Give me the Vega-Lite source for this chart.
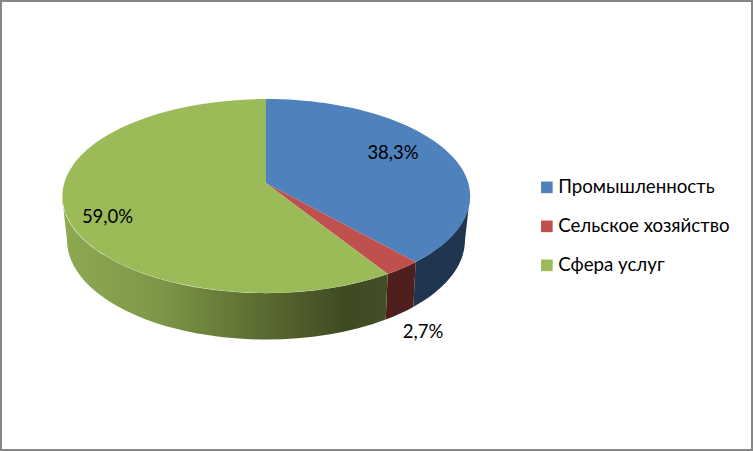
{
"$schema":"https://vega.github.io/schema/vega-lite/v6.json",
"width":751,"height":449,
"autosize":{"type":"none"},
"padding":1,
"background":"#ffffff",
"view":{"stroke":"#868686","strokeWidth":2,"fill":"#ffffff"},
"config":{"font":"Lato"},
"data":{"values":[
{"sector":"Промышленность","share":38.3,"label":"38,3%"},
{"sector":"Сельское хозяйство","share":2.7,"label":"2,7%"},
{"sector":"Сфера услуг","share":59.0,"label":"59,0%"}
]},
"layer":[
{"transform":[{"filter":"datum.sector==='Промышленность'"}],
 "mark":{"type":"point","filled":true,"size":4,"opacity":1,"fill":"#20354F","shape":"M93.5 -29.5 A204 97 0 0 1 39.2 36.5 L36.8 81.4 A199 99.5 0 0 0 88.5 14.5 Z"},"encoding":{}},
{"transform":[{"filter":"datum.sector==='Сельское хозяйство'"}],
 "mark":{"type":"point","filled":true,"size":4,"opacity":1,"fill":"#4F1F1E","shape":"M39.2 36.5 A204 97 0 0 1 11.2 48.5 L9.2 94 A199 99.5 0 0 0 36.8 81.4 Z"},"encoding":{}},
{"transform":[{"filter":"datum.sector==='Сфера услуг'"}],
 "mark":{"type":"point","filled":true,"size":4,"opacity":1,
  "fill":{"gradient":"linear","x1":0,"y1":0,"x2":1,"y2":0,"stops":[{"offset":0,"color":"#8DAA52"},{"offset":0.3,"color":"#7D9748"},{"offset":0.62,"color":"#5A6A30"},{"offset":0.88,"color":"#3E4A22"},{"offset":1,"color":"#434F26"}]},
  "shape":"M11.2 48.5 A204 97 0 0 1 -314.5 -29.5 L-309.5 14.5 A199 99.5 0 0 0 9.2 94 Z"},"encoding":{}},
{"transform":[{"filter":"datum.sector==='Промышленность'"}],
 "mark":{"type":"point","filled":true,"size":4,"opacity":1,"fill":"#4F81BD","shape":"M-110.5 -42.2 L-110.5 -126.5 A204 97 0 0 1 39.2 36.5 Z"},"encoding":{}},
{"transform":[{"filter":"datum.sector==='Сельское хозяйство'"}],
 "mark":{"type":"point","filled":true,"size":4,"opacity":1,"fill":"#C0504D","shape":"M-110.5 -42.2 L39.2 36.5 A204 97 0 0 1 11.2 48.5 Z"},"encoding":{}},
{"transform":[{"filter":"datum.sector==='Сфера услуг'"}],
 "mark":{"type":"point","filled":true,"size":4,"opacity":1,"fill":"#9BBB59","shape":"M-110.5 -42.2 L11.2 48.5 A204 97 0 1 1 -110.5 -126.5 Z"},"encoding":{}},
{"mark":{"type":"square","size":0,"opacity":1},
 "encoding":{
  "color":{"field":"sector","type":"nominal","sort":null,
   "scale":{"domain":["Промышленность","Сельское хозяйство","Сфера услуг"],"range":["#4F81BD","#C0504D","#9BBB59"]},
   "legend":{"title":null,"orient":"none","legendX":536.5,"legendY":177,"symbolType":"square","symbolSize":135,"symbolOpacity":1,"symbolStrokeWidth":0,"labelFontSize":18.7,"labelFont":"Lato","labelColor":"#000000","labelOffset":2,"rowPadding":19,"labelLimit":220}}
 }},
{"transform":[{"filter":"datum.sector==='Промышленность'"}],
 "mark":{"type":"text","fontSize":18.5,"color":"#000000","align":"center","baseline":"middle","dx":16.5,"dy":-72.5},"encoding":{"text":{"field":"label"}}},
{"transform":[{"filter":"datum.sector==='Сельское хозяйство'"}],
 "mark":{"type":"text","fontSize":18.5,"color":"#000000","align":"center","baseline":"middle","dx":46.5,"dy":106.5},"encoding":{"text":{"field":"label"}}},
{"transform":[{"filter":"datum.sector==='Сфера услуг'"}],
 "mark":{"type":"text","fontSize":18.5,"color":"#000000","align":"center","baseline":"middle","dx":-269,"dy":-8.5},"encoding":{"text":{"field":"label"}}}
]
}
